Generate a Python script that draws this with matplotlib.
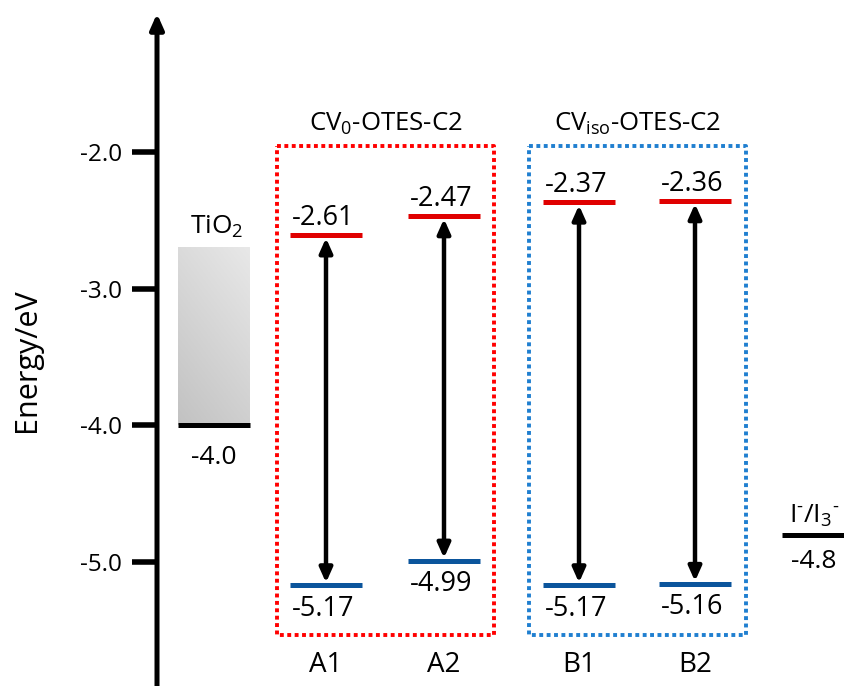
import numpy as np
import matplotlib.pyplot as plt

plt.rcParams['font.family'] = ['Open Sans', 'DejaVu Sans']
plt.rcParams['mathtext.fontset'] = 'custom'
plt.rcParams['mathtext.rm'] = 'Open Sans'
plt.rcParams['mathtext.it'] = 'Open Sans:italic'
plt.rcParams['mathtext.bf'] = 'Open Sans:bold'

# energy levels (eV)
samples = ['A1', 'A2', 'B1', 'B2']
lumo = [-2.61, -2.47, -2.37, -2.36]
homo = [-5.17, -4.99, -5.17, -5.16]
tio2_cb = -4.0
tio2_top = -2.7
redox = -4.8
groups = ['CV$_0$-OTES-C2', 'CV$_{\\mathrm{iso}}$-OTES-C2']
ticks = [-2.0, -3.0, -4.0, -5.0]

# horizontal layout (axis units)
xc = [326, 444, 579, 695]
half = 36
tio2_x = (178, 250)
redox_x = (782, 845)
box_x = [(277, 494), (529, 746)]
box_colors = ['#ff0000', '#1f7fd0']

fig = plt.figure(figsize=(8.45, 6.86), dpi=100)
ax = fig.add_axes([157 / 845, 0, 1 - 157 / 845, 1 - 15 / 686])
ax.set_xlim(157, 845)
ax.set_ylim(-5.905, -1.0)

for s in ['top', 'right', 'bottom', 'left']:
    ax.spines[s].set_visible(False)
ax.set_xticks([])
ax.set_yticks(ticks)
ax.set_yticklabels([f'{t:.1f}' for t in ticks], fontsize=17.5)
ax.tick_params(axis='y', length=18, width=4, direction='out', pad=7)
fig.text(27 / 845, 1 - 360 / 686, 'Energy/eV', rotation=90,
         ha='center', va='center', fontsize=22)

# vertical energy axis with arrow head
ax.annotate('', xy=(157, -0.99), xytext=(157, -5.905),
            arrowprops=dict(arrowstyle='-|>,head_width=0.4,head_length=0.9',
                            lw=3.6, color='black', shrinkA=0, shrinkB=0),
            annotation_clip=False)

# TiO2 conduction band block, light grey gradient
gx, gy = np.meshgrid(np.linspace(0, 1, 50), np.linspace(0, 1, 100))
v = 0.76 + 0.15 * (0.65 * gy + 0.35 * gx)
ax.imshow(np.dstack([v, v, v]), extent=(tio2_x[0], tio2_x[1], tio2_cb, tio2_top),
          origin='lower', aspect='auto', zorder=1)
ax.plot(tio2_x, [tio2_cb, tio2_cb], color='black', lw=3.6, solid_capstyle='butt')
ax.text(sum(tio2_x) / 2 + 3, -2.6, 'TiO$_2$', ha='center', va='baseline', fontsize=19)
ax.text(sum(tio2_x) / 2, -4.285, f'{tio2_cb:.1f}', ha='center', va='baseline', fontsize=19)

# I-/I3- redox level
ax.plot(redox_x, [redox, redox], color='black', lw=3.6, solid_capstyle='butt', clip_on=False)
ax.text(814, -4.715, 'I$^{\\text{-}}$/I$_3$$^{\\text{-}}$', ha='center', va='baseline', fontsize=19)
ax.text(814, -5.045, f'{redox:.1f}', ha='center', va='baseline', fontsize=19)

# dotted group boxes
for (x0, x1), col, title in zip(box_x, box_colors, groups):
    ax.plot([x0, x1, x1, x0, x0], [-1.956, -1.956, -5.533, -5.533, -1.956],
            color=col, lw=2.8, linestyle=(0, (1, 0.9)))
    ax.text((x0 + x1) / 2, -1.847, title, ha='center', va='baseline', fontsize=18.5)

# frontier orbital levels
for x, lu, ho, name in zip(xc, lumo, homo, samples):
    ax.plot([x - half, x + half], [lu, lu], color='#e00000', lw=3.6, solid_capstyle='butt')
    ax.plot([x - half, x + half], [ho, ho], color='#0b559c', lw=3.6, solid_capstyle='butt')
    ax.annotate('', xy=(x, lu), xytext=(x, ho),
                arrowprops=dict(arrowstyle='<|-|>,head_width=0.38,head_length=0.85',
                                lw=3.2, color='black', shrinkA=2, shrinkB=2))
    ax.text(x - 3, lu + 0.077, f'{lu:.2f}', ha='center', va='baseline', fontsize=19.5)
    ax.text(x - 3, ho - 0.22, f'{ho:.2f}', ha='center', va='baseline', fontsize=19.5)
    ax.text(x, -5.803, name, ha='center', va='baseline', fontsize=20)

fig.savefig('out.png', dpi=100)
